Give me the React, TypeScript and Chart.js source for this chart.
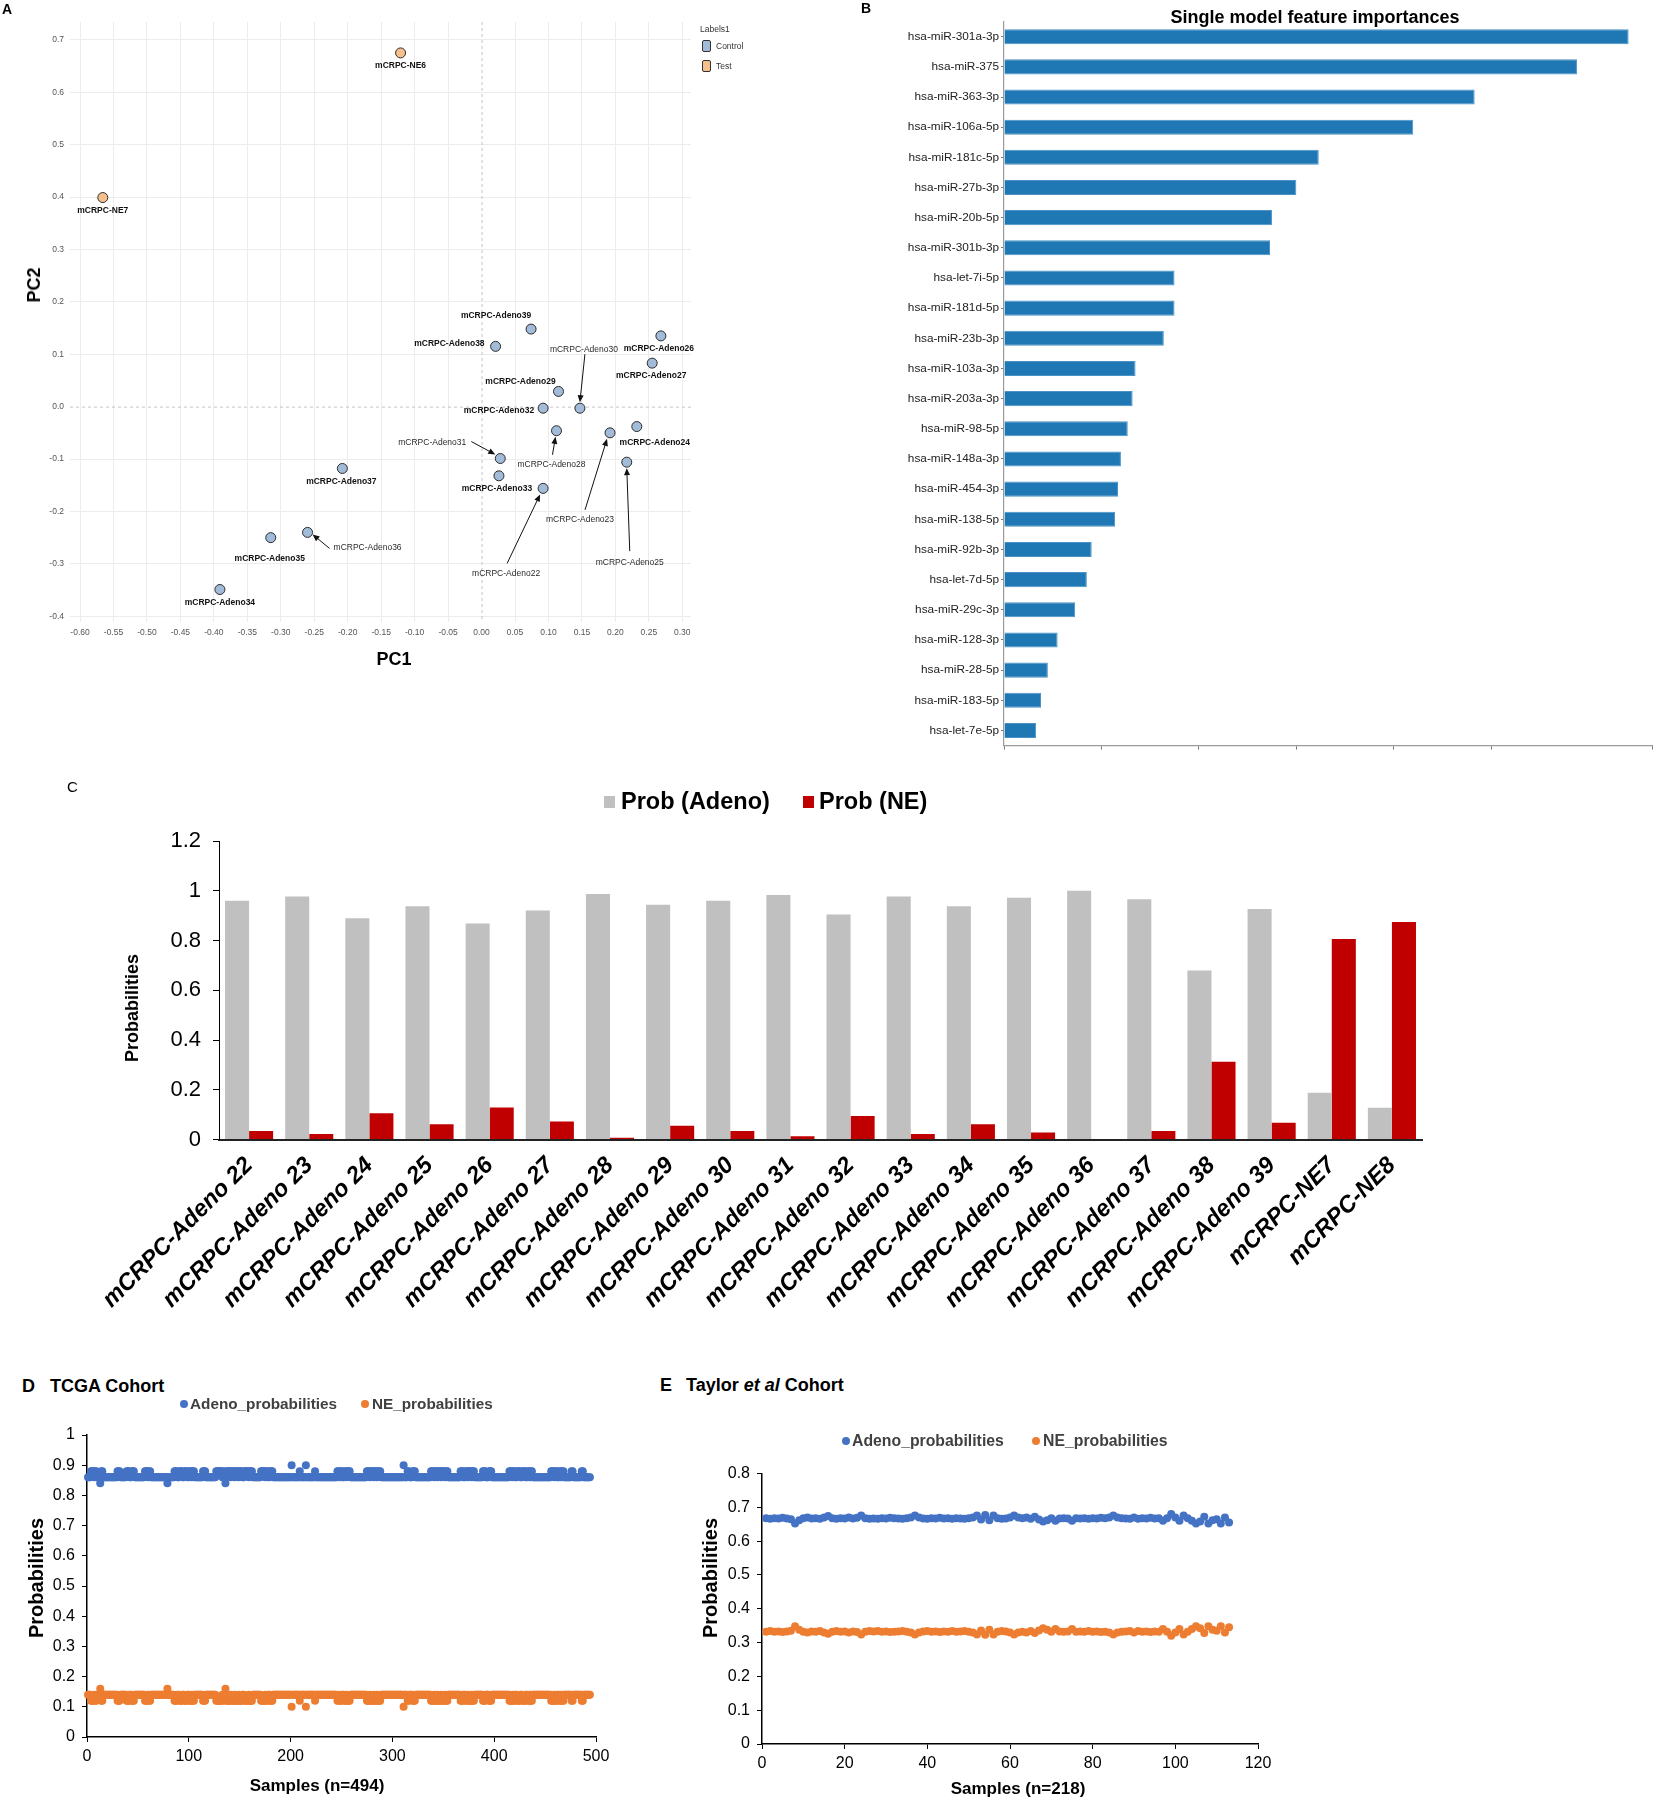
import React, { useEffect, useRef } from 'react';
import { Chart, registerables } from 'chart.js';
Chart.register(...registerables);

const FONT = "'Liberation Sans', Arial, Helvetica, sans-serif";
Chart.defaults.font.family = FONT;

// ---------- Panel A: PCA ----------
const pcaNames = ['mCRPC-NE6', 'mCRPC-NE7', 'mCRPC-Adeno39', 'mCRPC-Adeno38', 'mCRPC-Adeno26', 'mCRPC-Adeno27', 'mCRPC-Adeno29', 'mCRPC-Adeno32', 'mCRPC-Adeno30', 'mCRPC-Adeno28', 'mCRPC-Adeno23', 'mCRPC-Adeno24', 'mCRPC-Adeno25', 'mCRPC-Adeno31', 'mCRPC-Adeno33', 'mCRPC-Adeno22', 'mCRPC-Adeno37', 'mCRPC-Adeno36', 'mCRPC-Adeno35', 'mCRPC-Adeno34'];
const pcaGroup = ['Test', 'Test', 'Control', 'Control', 'Control', 'Control', 'Control', 'Control', 'Control', 'Control', 'Control', 'Control', 'Control', 'Control', 'Control', 'Control', 'Control', 'Control', 'Control', 'Control'];
const pcaPC1 = [-0.121, -0.566, 0.074, 0.021, 0.268, 0.255, 0.115, 0.092, 0.147, 0.112, 0.192, 0.232, 0.217, 0.028, 0.026, 0.092, -0.208, -0.260, -0.315, -0.391];
const pcaPC2 = [0.675, 0.399, 0.148, 0.115, 0.135, 0.083, 0.029, -0.003, -0.003, -0.046, -0.050, -0.038, -0.106, -0.099, -0.132, -0.156, -0.118, -0.240, -0.250, -0.349];
const pcaXTicks = { min: -0.615, max: 0.313, step: 0.05 };
const pcaYTicks = { min: -0.411, max: 0.734, step: 0.1 };

// label placement (pixel offsets from the point), kept apart from data
const pcaLabelLayout: any[] = [
  { dx: 0, dy: 13, align: 'center', bold: true },
  { dx: 0, dy: 13, align: 'center', bold: true },
  { dx: -35, dy: -13, align: 'center', bold: true },
  { dx: -11, dy: -3, align: 'right', bold: true },
  { dx: -2, dy: 13, align: 'center', bold: true },
  { dx: -1, dy: 13, align: 'center', bold: true },
  { dx: -38, dy: -10, align: 'center', bold: true },
  { dx: -9, dy: 2, align: 'right', bold: true },
  { dx: 4, dy: -59, align: 'center', bold: false, arrow: [5, -54, 0, -6] },
  { dx: -5, dy: 34, align: 'center', bold: false, arrow: [-4, 24, -1, 6] },
  { dx: -30, dy: 87, align: 'center', bold: false, arrow: [-25, 77, -3, 6] },
  { dx: 18, dy: 16, align: 'center', bold: true },
  { dx: 3, dy: 100, align: 'center', bold: false, arrow: [3, 89, 0, 6] },
  { dx: -34, dy: -16, align: 'right', bold: false, arrow: [-29, -17, -5, -4] },
  { dx: -2, dy: 13, align: 'center', bold: true },
  { dx: -37, dy: 85, align: 'center', bold: false, arrow: [-36, 75, -3, 6] },
  { dx: -1, dy: 13, align: 'center', bold: true },
  { dx: 26, dy: 15, align: 'left', bold: false, arrow: [22, 16, 5, 2] },
  { dx: -1, dy: 21, align: 'center', bold: true },
  { dx: 0, dy: 13, align: 'center', bold: true },
];

// ---------- Panel B: feature importances ----------
const mirnaNames = ['hsa-miR-301a-3p', 'hsa-miR-375', 'hsa-miR-363-3p', 'hsa-miR-106a-5p', 'hsa-miR-181c-5p', 'hsa-miR-27b-3p', 'hsa-miR-20b-5p', 'hsa-miR-301b-3p', 'hsa-let-7i-5p', 'hsa-miR-181d-5p', 'hsa-miR-23b-3p', 'hsa-miR-103a-3p', 'hsa-miR-203a-3p', 'hsa-miR-98-5p', 'hsa-miR-148a-3p', 'hsa-miR-454-3p', 'hsa-miR-138-5p', 'hsa-miR-92b-3p', 'hsa-let-7d-5p', 'hsa-miR-29c-3p', 'hsa-miR-128-3p', 'hsa-miR-28-5p', 'hsa-miR-183-5p', 'hsa-let-7e-5p'];
const mirnaImportance = [0.0641, 0.0588, 0.0483, 0.0420, 0.0323, 0.0300, 0.0275, 0.0273, 0.0175, 0.0175, 0.0164, 0.0135, 0.0132, 0.0127, 0.0120, 0.0117, 0.0114, 0.0090, 0.0085, 0.0073, 0.0055, 0.0045, 0.0038, 0.0033];
const importanceAxis = { min: 0, max: 0.0665, step: 0.01 };

// ---------- Panel C: per-sample probabilities ----------
const sampleNames = ['mCRPC-Adeno 22', 'mCRPC-Adeno 23', 'mCRPC-Adeno 24', 'mCRPC-Adeno 25', 'mCRPC-Adeno 26', 'mCRPC-Adeno 27', 'mCRPC-Adeno 28', 'mCRPC-Adeno 29', 'mCRPC-Adeno 30', 'mCRPC-Adeno 31', 'mCRPC-Adeno 32', 'mCRPC-Adeno 33', 'mCRPC-Adeno 34', 'mCRPC-Adeno 35', 'mCRPC-Adeno 36', 'mCRPC-Adeno 37', 'mCRPC-Adeno 38', 'mCRPC-Adeno 39', 'mCRPC-NE7', 'mCRPC-NE8'];
const probAdeno = [0.960, 0.977, 0.890, 0.938, 0.868, 0.921, 0.987, 0.944, 0.960, 0.983, 0.905, 0.977, 0.938, 0.972, 1.0, 0.966, 0.680, 0.927, 0.188, 0.128];
const probNE = [0.035, 0.023, 0.106, 0.062, 0.129, 0.073, 0.007, 0.056, 0.035, 0.013, 0.095, 0.023, 0.062, 0.029, 0, 0.035, 0.313, 0.068, 0.806, 0.874];
const probTicks = { min: 0, max: 1.2, step: 0.2 };

// ---------- Panel D: TCGA cohort (n=494) ----------
const tcgaCount = 494;
const tcgaAdenoUsual = 0.86;
const tcgaNEUsual = 0.14;
const tcgaSamplesAt088 = [4, 5, 6, 8, 9, 14, 15, 30, 31, 32, 39, 40, 41, 44, 45, 46, 57, 58, 59, 61, 62, 86, 87, 88, 91, 92, 93, 96, 97, 98, 101, 102, 104, 105, 114, 115, 116, 127, 128, 129, 130, 131, 132, 134, 137, 138, 139, 140, 142, 143, 144, 146, 147, 148, 150, 151, 152, 155, 156, 157, 158, 160, 161, 162, 171, 172, 173, 174, 176, 177, 180, 181, 182, 209, 224, 246, 247, 249, 250, 253, 254, 256, 257, 258, 275, 276, 277, 279, 280, 281, 283, 284, 286, 287, 288, 315, 316, 320, 321, 322, 338, 339, 340, 342, 343, 345, 346, 347, 349, 350, 351, 353, 354, 367, 368, 369, 372, 373, 375, 376, 377, 379, 380, 389, 390, 391, 395, 396, 397, 415, 416, 417, 419, 420, 423, 424, 425, 428, 429, 430, 433, 434, 436, 437, 456, 457, 458, 460, 461, 464, 465, 467, 468, 476, 477, 486, 487];
const tcgaSamplesAt090 = [201, 215, 311];
const tcgaSamplesAt084 = [13, 79, 136];
const tcgaAdenoAt = { s088: 0.88, s090: 0.90, s084: 0.84 };
const tcgaNEAt = { s088: 0.12, s090: 0.10, s084: 0.16 };

// ---------- Panel E: Taylor et al cohort ----------
const taylorAdeno = [0.668, 0.666, 0.668, 0.667, 0.669, 0.667, 0.665, 0.652, 0.662, 0.668, 0.670, 0.667, 0.668, 0.666, 0.670, 0.674, 0.668, 0.666, 0.668, 0.667, 0.670, 0.667, 0.669, 0.676, 0.668, 0.666, 0.667, 0.666, 0.668, 0.667, 0.669, 0.668, 0.667, 0.666, 0.668, 0.670, 0.676, 0.670, 0.667, 0.666, 0.668, 0.667, 0.669, 0.667, 0.668, 0.666, 0.668, 0.667, 0.666, 0.668, 0.670, 0.676, 0.664, 0.677, 0.662, 0.676, 0.668, 0.666, 0.667, 0.670, 0.676, 0.670, 0.668, 0.670, 0.666, 0.672, 0.664, 0.658, 0.662, 0.668, 0.660, 0.667, 0.668, 0.667, 0.660, 0.668, 0.667, 0.668, 0.666, 0.668, 0.667, 0.669, 0.668, 0.670, 0.676, 0.670, 0.668, 0.667, 0.666, 0.670, 0.666, 0.668, 0.667, 0.669, 0.667, 0.668, 0.660, 0.668, 0.680, 0.670, 0.660, 0.676, 0.668, 0.660, 0.652, 0.658, 0.672, 0.652, 0.662, 0.665, 0.652, 0.670, 0.655];
const taylorNE = [0.332, 0.334, 0.332, 0.333, 0.331, 0.333, 0.335, 0.348, 0.338, 0.332, 0.330, 0.333, 0.332, 0.334, 0.330, 0.326, 0.332, 0.334, 0.332, 0.333, 0.330, 0.333, 0.331, 0.324, 0.332, 0.334, 0.333, 0.334, 0.332, 0.333, 0.331, 0.332, 0.333, 0.334, 0.332, 0.330, 0.324, 0.330, 0.333, 0.334, 0.332, 0.333, 0.331, 0.333, 0.332, 0.334, 0.332, 0.333, 0.334, 0.332, 0.330, 0.324, 0.336, 0.323, 0.338, 0.324, 0.332, 0.334, 0.333, 0.330, 0.324, 0.330, 0.332, 0.330, 0.334, 0.328, 0.336, 0.342, 0.338, 0.332, 0.340, 0.333, 0.332, 0.333, 0.340, 0.332, 0.333, 0.332, 0.334, 0.332, 0.333, 0.331, 0.332, 0.330, 0.324, 0.330, 0.332, 0.333, 0.334, 0.330, 0.334, 0.332, 0.333, 0.331, 0.333, 0.332, 0.340, 0.332, 0.320, 0.330, 0.340, 0.324, 0.332, 0.340, 0.348, 0.342, 0.328, 0.348, 0.338, 0.335, 0.348, 0.330, 0.345];

const BLUE = '#4472c4';
const ORANGE = '#ed7d31';

// ---------- helpers ----------
function fixedArea(x: number, y: number, w: number, h: number, area: { l: number; t: number; r: number; b: number }) {
  return {
    padding: { left: 0, top: area.t - y, right: x + w - area.r, bottom: 0 },
    yWidth: area.l - x,
    xHeight: y + h - area.b,
  };
}

function ChartBox({ x, y, w, h, make }: any) {
  const ref = useRef<HTMLCanvasElement>(null);
  useEffect(() => {
    const chart = new Chart(ref.current as HTMLCanvasElement, make());
    return () => chart.destroy();
  }, []);
  return (
    <div style={{ position: 'absolute', left: x, top: y, width: w, height: h }}>
      <canvas ref={ref} width={w} height={h} style={{ width: w, height: h, display: 'block' }} />
    </div>
  );
}

function T({ x, y, children, size = 14, bold = false, italic = false, align = 'left', rotate = false, color = '#000' }: any) {
  let tf = align === 'center' ? 'translate(-50%,-50%)' : align === 'right' ? 'translate(-100%,-50%)' : 'translate(0,-50%)';
  if (rotate) tf = 'translate(-50%,-50%) rotate(-90deg)';
  return (
    <div style={{ position: 'absolute', left: x, top: y, transform: tf, fontFamily: FONT, fontSize: size, fontWeight: bold ? 'bold' : 'normal', fontStyle: italic ? 'italic' : 'normal', color, whiteSpace: 'nowrap', lineHeight: 1 }}>
      {children}
    </div>
  );
}

const baseOpts = {
  responsive: false,
  maintainAspectRatio: false,
  animation: false as const,
  devicePixelRatio: 1,
  events: [] as any[],
};

// ---------- Chart A ----------
function makeA() {
  const L = fixedArea(0, 0, 740, 680, { l: 70, t: 22, r: 691, b: 622 });
  const pts = (g: string) => pcaNames.map((_, i) => i).filter(i => pcaGroup[i] === g).map(i => ({ x: pcaPC1[i], y: pcaPC2[i] }));
  const gridColor = (c: any) => (c.tick && Math.abs(c.tick.value) < 1e-9 ? 'rgba(0,0,0,0)' : '#ececec');
  const labelPlugin = {
    id: 'pcaLabels',
    beforeDatasetsDraw(chart: any) {
      const { ctx, chartArea, scales } = chart;
      const x0 = scales.x.getPixelForValue(0);
      const y0 = scales.y.getPixelForValue(0);
      ctx.save();
      ctx.strokeStyle = '#c4c4c4';
      ctx.lineWidth = 1;
      ctx.setLineDash([3, 3]);
      ctx.beginPath();
      ctx.moveTo(x0 + 0.5, chartArea.top);
      ctx.lineTo(x0 + 0.5, chartArea.bottom);
      ctx.moveTo(chartArea.left, y0 + 0.5);
      ctx.lineTo(chartArea.right, y0 + 0.5);
      ctx.stroke();
      ctx.restore();
    },
    afterDatasetsDraw(chart: any) {
      const { ctx, scales } = chart;
      ctx.save();
      pcaNames.forEach((name, i) => {
        const px = scales.x.getPixelForValue(pcaPC1[i]);
        const py = scales.y.getPixelForValue(pcaPC2[i]);
        const lay = pcaLabelLayout[i];
        ctx.font = `${lay.bold ? 'bold ' : ''}8.5px ${FONT}`;
        ctx.fillStyle = lay.bold ? '#111' : '#2a2a2a';
        ctx.textAlign = lay.align;
        ctx.textBaseline = 'middle';
        ctx.fillText(name, px + lay.dx, py + lay.dy);
        if (lay.arrow) {
          const [sx, sy, ex, ey] = lay.arrow;
          const x1 = px + sx, y1 = py + sy, x2 = px + ex, y2 = py + ey;
          const ang = Math.atan2(y2 - y1, x2 - x1);
          ctx.strokeStyle = '#111';
          ctx.fillStyle = '#111';
          ctx.lineWidth = 1;
          ctx.beginPath();
          ctx.moveTo(x1, y1);
          ctx.lineTo(x2 - 5 * Math.cos(ang), y2 - 5 * Math.sin(ang));
          ctx.stroke();
          ctx.beginPath();
          ctx.moveTo(x2, y2);
          ctx.lineTo(x2 - 7 * Math.cos(ang) + 3 * Math.sin(ang), y2 - 7 * Math.sin(ang) - 3 * Math.cos(ang));
          ctx.lineTo(x2 - 7 * Math.cos(ang) - 3 * Math.sin(ang), y2 - 7 * Math.sin(ang) + 3 * Math.cos(ang));
          ctx.closePath();
          ctx.fill();
        }
      });
      ctx.restore();
    },
  };
  return {
    type: 'scatter',
    data: {
      datasets: [
        { label: 'Control', data: pts('Control'), backgroundColor: '#a2bbd8', borderColor: '#2b2b2b', borderWidth: 1, pointRadius: 5 },
        { label: 'Test', data: pts('Test'), backgroundColor: '#f6c08c', borderColor: '#2b2b2b', borderWidth: 1, pointRadius: 5 },
      ],
    },
    options: {
      ...baseOpts,
      layout: { padding: L.padding },
      plugins: { legend: { display: false }, tooltip: { enabled: false } },
      scales: {
        x: {
          type: 'linear', min: pcaXTicks.min, max: pcaXTicks.max,
          afterFit: (s: any) => { s.height = L.xHeight; },
          ticks: { stepSize: pcaXTicks.step, includeBounds: false, autoSkip: false, maxRotation: 0, padding: 6, color: '#555', font: { size: 8.5 }, callback: (v: any) => Number(v).toFixed(2) },
          grid: { color: gridColor, drawTicks: false },
          border: { display: false },
        },
        y: {
          type: 'linear', min: pcaYTicks.min, max: pcaYTicks.max,
          afterFit: (s: any) => { s.width = L.yWidth; },
          ticks: { stepSize: pcaYTicks.step, includeBounds: false, padding: 6, color: '#555', font: { size: 8.5 }, callback: (v: any) => Number(v).toFixed(1) },
          grid: { color: gridColor, drawTicks: false },
          border: { display: false },
        },
      },
    },
    plugins: [labelPlugin],
  } as any;
}

// ---------- Chart B ----------
function makeB() {
  const L = fixedArea(860, 0, 796, 760, { l: 1004, t: 21.6, r: 1652, b: 745.5 });
  return {
    type: 'bar',
    data: {
      labels: mirnaNames,
      datasets: [{ data: mirnaImportance, backgroundColor: '#1f77b4', borderColor: '#4a92c8', borderWidth: 1, barPercentage: 0.5, categoryPercentage: 1 }],
    },
    options: {
      ...baseOpts,
      indexAxis: 'y',
      layout: { padding: L.padding },
      plugins: { legend: { display: false }, tooltip: { enabled: false } },
      scales: {
        x: {
          type: 'linear', min: importanceAxis.min, max: importanceAxis.max,
          afterFit: (s: any) => { s.height = L.xHeight; },
          ticks: { stepSize: importanceAxis.step, callback: () => '', padding: 0 },
          grid: { drawOnChartArea: false, drawTicks: true, tickLength: 4, color: '#777' },
          border: { color: '#9a9a9a', width: 1.2 },
        },
        y: {
          afterFit: (s: any) => { s.width = L.yWidth; },
          ticks: { color: '#222', font: { size: 11.8 }, padding: 2, autoSkip: false },
          grid: { drawOnChartArea: false, drawTicks: true, tickLength: 3, color: '#777', offset: false },
          border: { color: '#9a9a9a', width: 1.2 },
        },
      },
    },
  } as any;
}

// ---------- Chart C ----------
function makeC() {
  const L = fixedArea(0, 760, 1450, 560, { l: 219, t: 841, r: 1422, b: 1139.6 });
  return {
    type: 'bar',
    data: {
      labels: sampleNames,
      datasets: [
        { label: 'Prob (Adeno)', data: probAdeno, backgroundColor: '#c0c0c0', categoryPercentage: 0.8, barPercentage: 1 },
        { label: 'Prob (NE)', data: probNE, backgroundColor: '#c00000', categoryPercentage: 0.8, barPercentage: 1 },
      ],
    },
    options: {
      ...baseOpts,
      layout: { padding: L.padding },
      plugins: { legend: { display: false }, tooltip: { enabled: false } },
      scales: {
        x: {
          afterFit: (s: any) => { s.height = L.xHeight; },
          ticks: { color: '#000', font: { size: 23.5, weight: 'bold', style: 'italic' }, minRotation: 45, maxRotation: 45, autoSkip: false, padding: 4 },
          grid: { display: false },
          border: { color: '#222', width: 2 },
        },
        y: {
          min: probTicks.min, max: probTicks.max,
          afterFit: (s: any) => { s.width = L.yWidth; },
          ticks: { stepSize: probTicks.step, color: '#000', font: { size: 22 }, padding: 12, callback: (v: any) => String(Math.round(Number(v) * 10) / 10) },
          grid: { drawOnChartArea: false, drawTicks: true, tickLength: 6, color: '#000' },
          border: { color: '#000', width: 1 },
        },
      },
    },
  } as any;
}

// ---------- Chart D ----------
function tcgaSeries(usual: number, at: any) {
  const out: { x: number; y: number }[] = [];
  for (let s = 1; s <= tcgaCount; s++) {
    let v = usual;
    if (tcgaSamplesAt088.includes(s)) v = at.s088;
    if (tcgaSamplesAt090.includes(s)) v = at.s090;
    if (tcgaSamplesAt084.includes(s)) v = at.s084;
    out.push({ x: s, y: v });
  }
  return out;
}

function scatterAxes(L: any, xr: any, yr: any, fmtY: (v: number) => string) {
  return {
    x: {
      type: 'linear', min: xr.min, max: xr.max,
      afterFit: (s: any) => { s.height = L.xHeight; },
      ticks: { stepSize: xr.step, color: '#000', font: { size: 16 }, padding: 5, maxRotation: 0 },
      grid: { drawOnChartArea: false, drawTicks: true, tickLength: 5, color: '#000' },
      border: { color: '#000', width: 1.5 },
    },
    y: {
      type: 'linear', min: yr.min, max: yr.max,
      afterFit: (s: any) => { s.width = L.yWidth; },
      ticks: { stepSize: yr.step, color: '#000', font: { size: 16 }, padding: 7, callback: (v: any) => fmtY(Number(v)) },
      grid: { drawOnChartArea: false, drawTicks: true, tickLength: 5, color: '#000' },
      border: { color: '#000', width: 1.5 },
    },
  };
}
const fmtProb = (v: number) => String(Math.round(v * 10) / 10);

function makeD() {
  const L = fixedArea(0, 1400, 640, 400, { l: 87, t: 1435, r: 596, b: 1737 });
  return {
    type: 'scatter',
    data: {
      datasets: [
        { label: 'Adeno_probabilities', data: tcgaSeries(tcgaAdenoUsual, tcgaAdenoAt), backgroundColor: BLUE, borderWidth: 0, pointRadius: 4, clip: false },
        { label: 'NE_probabilities', data: tcgaSeries(tcgaNEUsual, tcgaNEAt), backgroundColor: ORANGE, borderWidth: 0, pointRadius: 4, clip: false },
      ],
    },
    options: {
      ...baseOpts,
      layout: { padding: L.padding },
      plugins: { legend: { display: false }, tooltip: { enabled: false } },
      scales: scatterAxes(L, { min: 0, max: 500, step: 100 }, { min: 0, max: 1, step: 0.1 }, fmtProb),
    },
  } as any;
}

function makeE() {
  const L = fixedArea(650, 1440, 640, 360, { l: 762, t: 1473.5, r: 1258, b: 1744 });
  return {
    type: 'scatter',
    data: {
      datasets: [
        { label: 'Adeno_probabilities', data: taylorAdeno.map((v, i) => ({ x: i + 1, y: v })), backgroundColor: BLUE, borderWidth: 0, pointRadius: 4, clip: false },
        { label: 'NE_probabilities', data: taylorNE.map((v, i) => ({ x: i + 1, y: v })), backgroundColor: ORANGE, borderWidth: 0, pointRadius: 4, clip: false },
      ],
    },
    options: {
      ...baseOpts,
      layout: { padding: L.padding },
      plugins: { legend: { display: false }, tooltip: { enabled: false } },
      scales: scatterAxes(L, { min: 0, max: 120, step: 20 }, { min: 0, max: 0.8, step: 0.1 }, fmtProb),
    },
  } as any;
}

function Dot({ x, y, color, r = 4 }: any) {
  return <div style={{ position: 'absolute', left: x - r, top: y - r, width: 2 * r, height: 2 * r, borderRadius: r, background: color }} />;
}
function Sq({ x, y, w, h, color, border }: any) {
  return <div style={{ position: 'absolute', left: x, top: y, width: w, height: h, background: color, border: border || 'none', borderRadius: border ? 2 : 0, boxSizing: 'border-box' }} />;
}

export default function App() {
  return (
    <div style={{ position: 'absolute', left: 0, top: 0, width: 1656, height: 1800, background: '#fff', overflow: 'hidden' }}>
      <ChartBox x={0} y={0} w={740} h={680} make={makeA} />
      <ChartBox x={860} y={0} w={796} h={760} make={makeB} />
      <ChartBox x={0} y={760} w={1450} h={560} make={makeC} />
      <ChartBox x={0} y={1400} w={640} h={400} make={makeD} />
      <ChartBox x={650} y={1440} w={640} h={360} make={makeE} />

      {/* Panel A texts */}
      <T x={2} y={9} size={14} bold>A</T>
      <T x={34} y={285} size={18} bold rotate>PC2</T>
      <T x={394} y={659} size={18} bold align="center">PC1</T>
      <T x={700} y={29} size={8.5} color="#333">Labels1</T>
      <Sq x={702} y={40} w={9} h={12} color="#a2bbd8" border="1px solid #333" />
      <T x={716} y={46} size={8.5} color="#333">Control</T>
      <Sq x={702} y={60} w={9} h={12} color="#f6c08c" border="1px solid #333" />
      <T x={716} y={66} size={8.5} color="#333">Test</T>

      {/* Panel B texts */}
      <T x={861} y={8} size={14} bold>B</T>
      <T x={1315} y={17} size={18} bold align="center">Single model feature importances</T>

      {/* Panel C texts */}
      <T x={67} y={786} size={15}>C</T>
      <Sq x={604} y={796} w={11} h={12} color="#c0c0c0" />
      <T x={621} y={802} size={23.5} bold>Prob (Adeno)</T>
      <Sq x={803} y={796} w={11} h={12} color="#c00000" />
      <T x={819} y={802} size={23.5} bold>Prob (NE)</T>
      <T x={132} y={1008} size={18} bold rotate>Probabilities</T>

      {/* Panel D texts */}
      <T x={22} y={1386} size={18} bold>D</T>
      <T x={50} y={1386} size={18} bold>TCGA Cohort</T>
      <Dot x={184} y={1404} color={BLUE} />
      <T x={190} y={1404} size={15.3} bold color="#404040">Adeno_probabilities</T>
      <Dot x={365} y={1404} color={ORANGE} />
      <T x={372} y={1404} size={15.3} bold color="#404040">NE_probabilities</T>
      <T x={36} y={1578} size={20} bold rotate>Probabilities</T>
      <T x={317} y={1785} size={17} bold align="center">Samples (n=494)</T>

      {/* Panel E texts */}
      <T x={660} y={1385} size={18} bold>E</T>
      <T x={686} y={1385} size={18} bold>Taylor <i>et al</i> Cohort</T>
      <Dot x={846} y={1441} color={BLUE} />
      <T x={852} y={1441} size={15.8} bold color="#404040">Adeno_probabilities</T>
      <Dot x={1036} y={1441} color={ORANGE} />
      <T x={1043} y={1441} size={15.8} bold color="#404040">NE_probabilities</T>
      <T x={710} y={1578} size={20} bold rotate>Probabilities</T>
      <T x={1018} y={1788} size={17} bold align="center">Samples (n=218)</T>
    </div>
  );
}
